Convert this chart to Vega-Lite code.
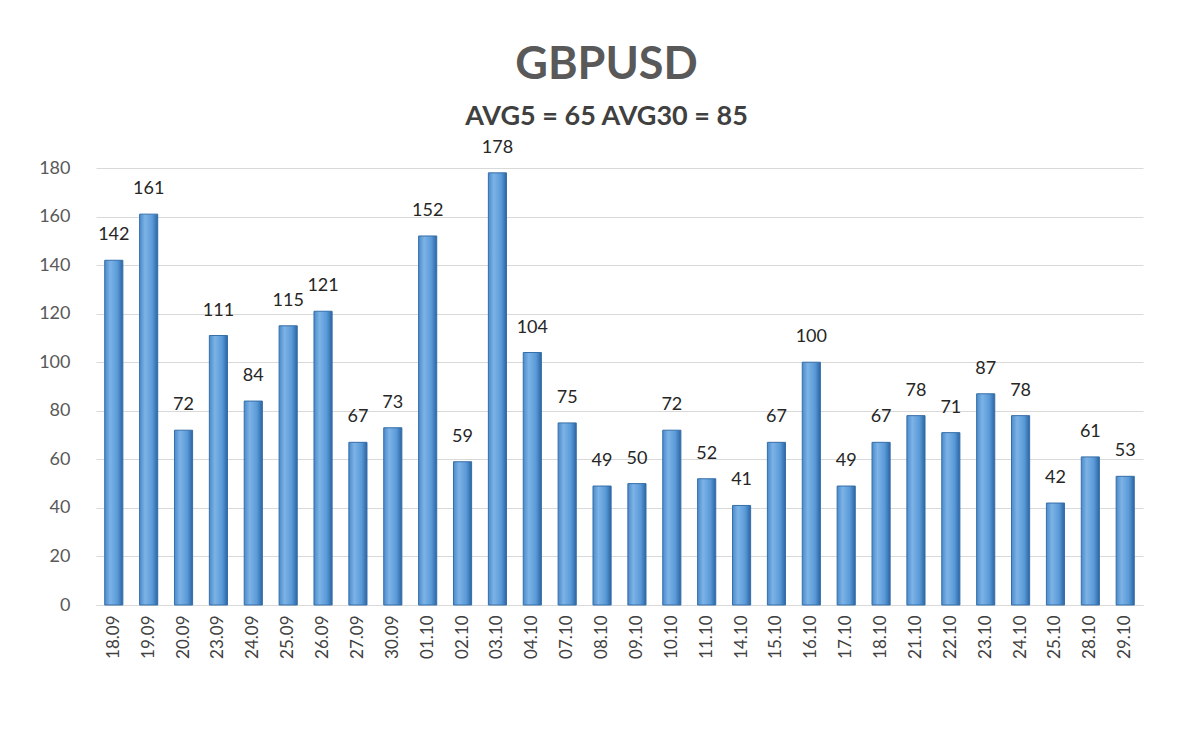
{
  "$schema": "https://vega.github.io/schema/vega-lite/v6.json",
  "width": 1047,
  "height": 437,
  "autosize": {"type": "none"},
  "padding": {"left": 96, "top": 168, "right": 57, "bottom": 144},
  "background": "white",
  "title": {
    "text": "GBPUSD",
    "subtitle": "AVG5 = 65 AVG30 = 85",
    "anchor": "middle",
    "dx": -13,
    "offset": 9,
    "font": "Lato",
    "fontSize": 45,
    "fontWeight": "bold",
    "color": "#595959",
    "subtitleFont": "Lato",
    "subtitleFontSize": 27,
    "subtitleFontWeight": "bold",
    "subtitleColor": "#404040",
    "subtitlePadding": 16
  },
  "data": {
    "values": [
      {"date": "18.09", "value": 142},
      {"date": "19.09", "value": 161},
      {"date": "20.09", "value": 72},
      {"date": "23.09", "value": 111},
      {"date": "24.09", "value": 84},
      {"date": "25.09", "value": 115},
      {"date": "26.09", "value": 121},
      {"date": "27.09", "value": 67},
      {"date": "30.09", "value": 73},
      {"date": "01.10", "value": 152},
      {"date": "02.10", "value": 59},
      {"date": "03.10", "value": 178},
      {"date": "04.10", "value": 104},
      {"date": "07.10", "value": 75},
      {"date": "08.10", "value": 49},
      {"date": "09.10", "value": 50},
      {"date": "10.10", "value": 72},
      {"date": "11.10", "value": 52},
      {"date": "14.10", "value": 41},
      {"date": "15.10", "value": 67},
      {"date": "16.10", "value": 100},
      {"date": "17.10", "value": 49},
      {"date": "18.10", "value": 67},
      {"date": "21.10", "value": 78},
      {"date": "22.10", "value": 71},
      {"date": "23.10", "value": 87},
      {"date": "24.10", "value": 78},
      {"date": "25.10", "value": 42},
      {"date": "28.10", "value": 61},
      {"date": "29.10", "value": 53}
    ]
  },
  "encoding": {
    "x": {
      "field": "date",
      "type": "ordinal",
      "sort": null,
      "scale": {"paddingInner": 0.48, "paddingOuter": 0.25},
      "axis": {
        "title": null,
        "labelAngle": -90,
        "labelFont": "Lato",
        "labelFontSize": 17,
        "labelColor": "#404040",
        "labelPadding": 10,
        "ticks": false,
        "domain": true,
        "domainColor": "#d9d9d9",
        "grid": false
      }
    },
    "y": {
      "field": "value",
      "type": "quantitative",
      "scale": {"domain": [0, 180], "nice": false},
      "axis": {
        "title": null,
        "values": [0, 20, 40, 60, 80, 100, 120, 140, 160, 180],
        "labelFont": "Lato",
        "labelFontSize": 18,
        "labelColor": "#595959",
        "labelPadding": 26,
        "ticks": false,
        "domain": false,
        "grid": true,
        "gridColor": "#d9d9d9",
        "gridWidth": 1.2
      }
    }
  },
  "layer": [
    {
      "mark": {
        "type": "bar",
        "stroke": "#356ea8",
        "strokeWidth": 1,
        "color": {
          "gradient": "linear",
          "x1": 0, "x2": 1, "y1": 0, "y2": 0,
          "stops": [
            {"offset": 0, "color": "#4a8acb"},
            {"offset": 0.3, "color": "#7db3e6"},
            {"offset": 0.7, "color": "#5a9ad8"},
            {"offset": 1, "color": "#2c65a3"}
          ]
        }
      }
    },
    {
      "mark": {
        "type": "text",
        "font": "Lato",
        "fontSize": 18,
        "color": "#262626",
        "baseline": "middle",
        "dy": -25
      },
      "encoding": {"text": {"field": "value", "type": "quantitative"}}
    }
  ],
  "config": {"view": {"stroke": null}}
}
